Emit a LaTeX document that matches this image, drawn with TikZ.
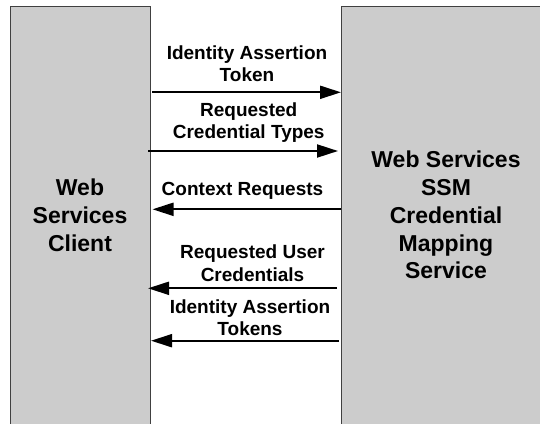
\documentclass[tikz,border=0pt]{standalone}
\usepackage{fontspec}
\setmainfont{Liberation Sans}
\usetikzlibrary{arrows.meta}
\definecolor{boxgray}{HTML}{CCCCCC}

\begin{document}
\begin{tikzpicture}[x=1pt,y=-1pt,
	box/.style={rectangle,draw=black!75,line width=1pt,fill=boxgray,outer sep=0pt,anchor=north west,minimum height=418pt,align=center,font=\fontsize{23}{27.8}\selectfont\bfseries},
	lbl/.style={align=center,inner sep=0pt,anchor=base,font=\fontsize{19}{22.3}\selectfont\bfseries},
	msg/.style={line width=2pt,-{Triangle[length=21pt,width=13pt]}}]
		\useasboundingbox (0,0) rectangle (540,423);
		\clip (0,0) rectangle (540,423);
		\path (10,6) node(client)[box,minimum width=140pt]{Web\\Services\\Client}
		(341,6) node(mapper)[box,minimum width=210pt]{Web Services\\SSM\\Credential\\Mapping\\Service};
		\path (247,81.7) node(idtok)[lbl]{Identity Assertion\\Token}
		(248.7,138.7) node(credtypes)[lbl]{Requested\\Credential Types}
		(242.5,195) node(ctxreq)[lbl]{Context Requests}
		(252.5,281) node(usercred)[lbl]{Requested User\\Credentials}
		(250,335.7) node(idtoks)[lbl]{Identity Assertion\\Tokens};
		\draw [msg] ([xshift=2pt]client.east |- 0,92.3) -- (mapper.west |- 0,92.3);
		\draw [msg] ([xshift=-2pt]client.east |- 0,151) -- ([xshift=-3pt]mapper.west |- 0,151);
		\draw [msg] (mapper.west |- 0,209.3) -- ([xshift=2.5pt]client.east |- 0,209.3);
		\draw [msg] ([xshift=-4pt]mapper.west |- 0,288.3) -- ([xshift=-2pt]client.east |- 0,288.3);
		\draw [msg] ([xshift=-2pt]mapper.west |- 0,340.7) -- ([xshift=1pt]client.east |- 0,340.7);
	\end{tikzpicture}
\end{document}
